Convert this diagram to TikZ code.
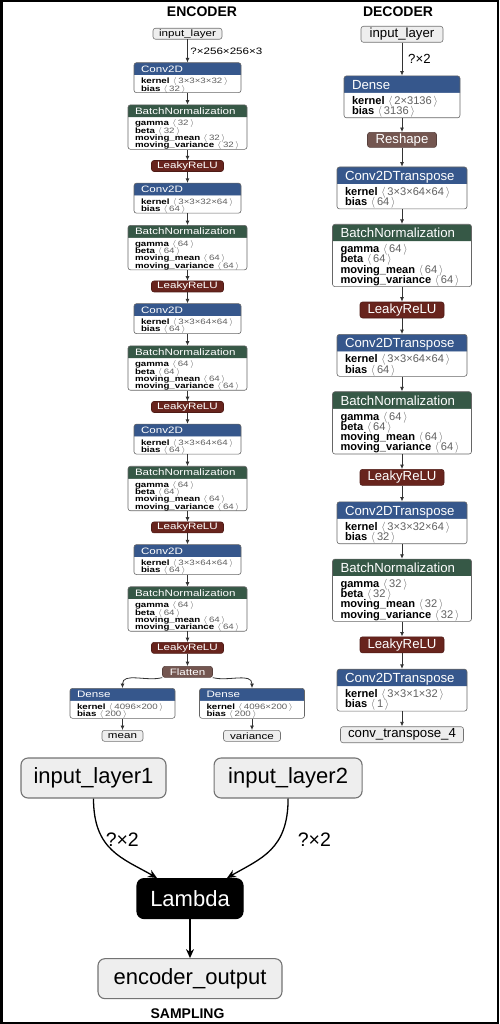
\documentclass[tikz,border=0pt]{standalone}
\usepackage{fontspec}
\setmainfont{Liberation Sans}
\usetikzlibrary{arrows.meta,positioning,shapes.multipart}

\definecolor{convblue}{HTML}{36578C}
\definecolor{normgreen}{HTML}{365846}
\definecolor{actred}{HTML}{68241D}
\definecolor{shapebrown}{HTML}{745650}
\definecolor{valgray}{HTML}{606060}
\definecolor{iogray}{HTML}{EEEEEE}

% header row and attribute rows of a layer box
\newcommand{\dhd}[1]{\rule[-3.5pt]{0pt}{16.5pt}\smash{\fontsize{13.2}{15}\selectfont\color{white}#1}}
\newcommand{\ehd}[1]{\rule[-3.3pt]{0pt}{15pt}\smash{\fontsize{11.6}{13}\selectfont\color{white}#1}}
\newcommand{\dbody}[1]{\rule{0pt}{11pt}#1\rule[-3pt]{0pt}{3pt}}
\newcommand{\ebody}[1]{\rule{0pt}{10.4pt}#1\rule[-1.8pt]{0pt}{1.8pt}}
\newcommand{\prm}[2]{\smash{\textbf{#1}\ \textcolor{valgray}{$\langle\,$#2$\,\rangle$}}}
\newcommand{\convvals}[2]{\prm{kernel}{#1}\\\prm{bias}{#2}}
\newcommand{\bnvals}[1]{\prm{gamma}{#1}\\\prm{beta}{#1}\\\prm{moving\_mean}{#1}\\\prm{moving\_variance}{#1}}

\begin{document}
\begin{tikzpicture}[x=1pt,y=-1pt,
layer/.style={rectangle split,rectangle split parts=2,rectangle split draw splits=false,
  rectangle split part fill={#1,white},draw=black!60,line width=0.6pt,
  rounded corners=2.5pt,inner ysep=0pt,align=left},
dlayer/.style={layer=#1,inner xsep=8pt,font=\fontsize{11.1}{10.2}\selectfont},
elayer/.style={layer=#1,inner xsep=7pt,yscale=0.8,font=\fontsize{9.7}{9.06}\selectfont},
pill/.style={fill=#1,draw=#1!75!black,text=white,line width=0.6pt,rounded corners=2.5pt,inner sep=0pt},
dpill/.style={pill=#1,minimum height=16pt,font=\fontsize{13.2}{15}\selectfont},
epill/.style={pill=#1,minimum height=13.75pt,yscale=0.8,font=\fontsize{11.6}{13}\selectfont},
io/.style={fill=iogray,draw=black!55,text=black},
big/.style={io,minimum height=40pt,rounded corners=7pt,line width=1.1pt,font=\fontsize{22}{26}\selectfont},
title/.style={font=\fontsize{14}{16}\selectfont\bfseries},
edge/.style={draw=black!80,line width=0.8pt,-{Latex[length=4.5pt,width=4pt]}},
bedge/.style={line width=1.3pt,-{Stealth[length=9pt,width=8pt]}}
]
\useasboundingbox (0,0) rectangle (499,1024);

% encoder
\node[title] (tenc) at (202,12) {ENCODER};
\node[epill=iogray,io,minimum width=69pt,anchor=north] (ein) at (187.5,28) {input\_layer};
\node[elayer=convblue,text width=93pt,below=23pt of ein] (ec1) {\ehd{Conv2D}\nodepart{two}\ebody{\convvals{3×3×3×32}{32}}};
\node[elayer=normgreen,text width=105pt,below=11.7pt of ec1] (eb1) {\ehd{BatchNormalization}\nodepart{two}\ebody{\bnvals{32}}};
\node[epill=actred,minimum width=72pt,below=10.7pt of eb1] (el1) {LeakyReLU};
\node[elayer=convblue,text width=93pt,below=11.2pt of el1] (ec2) {\ehd{Conv2D}\nodepart{two}\ebody{\convvals{3×3×32×64}{64}}};
\node[elayer=normgreen,text width=105pt,below=11.7pt of ec2] (eb2) {\ehd{BatchNormalization}\nodepart{two}\ebody{\bnvals{64}}};
\node[epill=actred,minimum width=72pt,below=10.7pt of eb2] (el2) {LeakyReLU};
\node[elayer=convblue,text width=93pt,below=11.2pt of el2] (ec3) {\ehd{Conv2D}\nodepart{two}\ebody{\convvals{3×3×64×64}{64}}};
\node[elayer=normgreen,text width=105pt,below=11.7pt of ec3] (eb3) {\ehd{BatchNormalization}\nodepart{two}\ebody{\bnvals{64}}};
\node[epill=actred,minimum width=72pt,below=10.7pt of eb3] (el3) {LeakyReLU};
\node[elayer=convblue,text width=93pt,below=11.2pt of el3] (ec4) {\ehd{Conv2D}\nodepart{two}\ebody{\convvals{3×3×64×64}{64}}};
\node[elayer=normgreen,text width=105pt,below=11.7pt of ec4] (eb4) {\ehd{BatchNormalization}\nodepart{two}\ebody{\bnvals{64}}};
\node[epill=actred,minimum width=72pt,below=10.7pt of eb4] (el4) {LeakyReLU};
\node[elayer=convblue,text width=93pt,below=11.2pt of el4] (ec5) {\ehd{Conv2D}\nodepart{two}\ebody{\convvals{3×3×64×64}{64}}};
\node[elayer=normgreen,text width=105pt,below=11.7pt of ec5] (eb5) {\ehd{BatchNormalization}\nodepart{two}\ebody{\bnvals{64}}};
\node[epill=actred,minimum width=72pt,below=10.7pt of eb5] (el5) {LeakyReLU};
\node[epill=shapebrown,minimum width=50pt,below=12.5pt of el5] (efl) {Flatten};
\node[elayer=convblue,text width=91pt,below=10.5pt of efl,xshift=-65pt] (edm) {\ehd{Dense}\nodepart{two}\ebody{\convvals{4096×200}{200}}};
\node[elayer=convblue,text width=91pt,below=10.5pt of efl,xshift=64.5pt] (edv) {\ehd{Dense}\nodepart{two}\ebody{\convvals{4096×200}{200}}};
\node[epill=iogray,io,minimum width=41pt,below=11.5pt of edm] (emean) {mean};
\node[epill=iogray,io,minimum width=57pt,below=11.5pt of edv] (evar) {variance};

% decoder
\node[title] (tdec) at (398,11.5) {DECODER};
\node[dpill=iogray,io,minimum width=82pt,anchor=north] (din) at (402,26) {input\_layer};
\node[dlayer=convblue,text width=100pt,below=33pt of din] (dd) {\dhd{Dense}\nodepart{two}\dbody{\convvals{2×3136}{3136}}};
\node[dpill=shapebrown,minimum width=69pt,minimum height=15pt,below=14pt of dd] (drs) {Reshape};
\node[dlayer=convblue,text width=114pt,below=19pt of drs] (dt1) {\dhd{Conv2DTranspose}\nodepart{two}\dbody{\convvals{3×3×64×64}{64}}};
\node[dlayer=normgreen,text width=123pt,below=14.8pt of dt1] (db1) {\dhd{BatchNormalization}\nodepart{two}\dbody{\bnvals{64}}};
\node[dpill=actred,minimum width=84pt,below=14.8pt of db1] (dl1) {LeakyReLU};
\node[dlayer=convblue,text width=114pt,below=15.8pt of dl1] (dt2) {\dhd{Conv2DTranspose}\nodepart{two}\dbody{\convvals{3×3×64×64}{64}}};
\node[dlayer=normgreen,text width=123pt,below=14.8pt of dt2] (db2) {\dhd{BatchNormalization}\nodepart{two}\dbody{\bnvals{64}}};
\node[dpill=actred,minimum width=84pt,below=14.8pt of db2] (dl2) {LeakyReLU};
\node[dlayer=convblue,text width=114pt,below=15.8pt of dl2] (dt3) {\dhd{Conv2DTranspose}\nodepart{two}\dbody{\convvals{3×3×32×64}{32}}};
\node[dlayer=normgreen,text width=123pt,below=14.8pt of dt3] (db3) {\dhd{BatchNormalization}\nodepart{two}\dbody{\bnvals{32}}};
\node[dpill=actred,minimum width=84pt,below=14.8pt of db3] (dl3) {LeakyReLU};
\node[dlayer=convblue,text width=114pt,below=15.8pt of dl3] (dt4) {\dhd{Conv2DTranspose}\nodepart{two}\dbody{\convvals{3×3×1×32}{1}}};
\node[dpill=iogray,io,minimum width=123pt,below=15pt of dt4] (dout) {conv\_transpose\_4};

% sampling
\node[big,minimum width=145pt] (in1) at (93.5,778) {input\_layer1};
\node[big,minimum width=148pt,right=47pt of in1] (in2) {input\_layer2};
\node[big,fill=black,draw=black,text=white,minimum width=106pt,anchor=north] (lam) at (190,878) {Lambda};
\node[big,minimum width=184pt,below=39pt of lam] (eout) {encoder\_output};
\node[title] (tsamp) at (187.5,1014) {SAMPLING};

\draw[edge] (ein) -- node[right,inner sep=2.5pt,yscale=0.8,font=\fontsize{11.6}{13}\selectfont] (lenc) {?×256×256×3} (ec1);
\draw[edge] (din) -- node[right,xshift=2.5pt,font=\fontsize{13.2}{15}\selectfont] (ldec) {?×2} (dd);
\foreach \a/\b in {ec1/eb1,eb1/el1,el1/ec2,ec2/eb2,eb2/el2,el2/ec3,ec3/eb3,eb3/el3,el3/ec4,ec4/eb4,eb4/el4,
  el4/ec5,ec5/eb5,eb5/el5,el5/efl,edm/emean,edv/evar,dd/drs,drs/dt1,dt1/db1,db1/dl1,dl1/dt2,dt2/db2,
  db2/dl2,dl2/dt3,dt3/db3,db3/dl3,dl3/dt4,dt4/dout}
  \draw[edge] (\a) -- (\b);
\draw[edge] (efl.south west) to[out=195,in=90] (edm.north);
\draw[edge] (efl.south east) to[out=-15,in=90] (edv.north);
\draw[bedge] (in1.south) to[out=-90,in=150,out looseness=1.3] node[pos=0.42,anchor=west,xshift=-2pt,yshift=5pt,inner sep=0pt,font=\fontsize{19.5}{22}\selectfont] (lq1) {?×2} ([xshift=-33pt]lam.north);
\draw[bedge] (in2.south) to[out=-90,in=30,out looseness=1.3] node[pos=0.42,anchor=west,xshift=22pt,yshift=5pt,inner sep=0pt,font=\fontsize{19.5}{22}\selectfont] (lq2) {?×2} ([xshift=37pt]lam.north);
\draw[bedge] (lam) -- (eout);

\draw[line width=2.5pt] (1.25,1.25) rectangle (497.75,1022.75);
\end{tikzpicture}
\end{document}
